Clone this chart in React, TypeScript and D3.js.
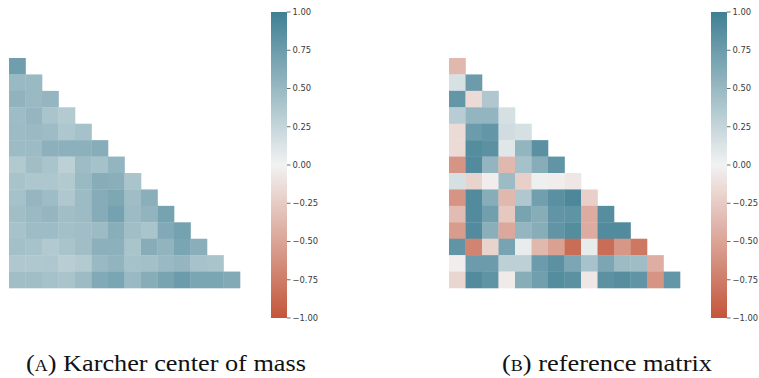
import React from "react";
import * as d3 from "d3";

// Lower-triangular correlation values, row i holds i+1 entries
const karcherRows: number[][] = [
  [0.73],
  [0.5, 0.5],
  [0.55, 0.5, 0.52],
  [0.47, 0.52, 0.4, 0.35],
  [0.48, 0.5, 0.47, 0.38, 0.43],
  [0.48, 0.48, 0.57, 0.57, 0.57, 0.6],
  [0.36, 0.45, 0.4, 0.3, 0.47, 0.43, 0.53],
  [0.41, 0.38, 0.38, 0.36, 0.5, 0.6, 0.58, 0.4],
  [0.43, 0.52, 0.47, 0.37, 0.48, 0.61, 0.65, 0.46, 0.58],
  [0.45, 0.5, 0.52, 0.45, 0.48, 0.61, 0.7, 0.48, 0.54, 0.69],
  [0.42, 0.47, 0.47, 0.44, 0.45, 0.48, 0.59, 0.45, 0.4, 0.63, 0.7],
  [0.44, 0.42, 0.36, 0.4, 0.45, 0.57, 0.57, 0.4, 0.6, 0.54, 0.67, 0.58],
  [0.37, 0.37, 0.38, 0.32, 0.35, 0.5, 0.54, 0.43, 0.44, 0.5, 0.52, 0.42, 0.4],
  [0.45, 0.45, 0.43, 0.4, 0.48, 0.63, 0.67, 0.5, 0.6, 0.68, 0.75, 0.67, 0.67, 0.63],
];

const referenceRows: number[][] = [
  [-0.37],
  [0.15, 0.75],
  [0.8, -0.15, 0.37],
  [0.33, 0.53, 0.53, 0.16],
  [-0.15, 0.75, 0.8, 0.19, 0.16],
  [-0.15, 0.88, 0.84, 0.1, 0.53, 0.85],
  [-0.6, 0.9, 0.53, -0.37, 0.43, 0.6, 0.81],
  [0.16, -0.2, -0.03, 0.48, -0.22, 0.02, -0.03, -0.07],
  [-0.6, 0.9, 0.6, -0.37, 0.37, 0.72, 0.85, 0.93, -0.22],
  [-0.35, 0.9, 0.72, -0.27, 0.68, 0.6, 0.81, 0.82, -0.45, 0.87],
  [-0.55, 0.9, 0.58, -0.47, 0.52, 0.6, 0.81, 0.88, -0.45, 0.9, 0.9],
  [0.81, -0.7, -0.2, 0.68, 0.05, -0.37, -0.52, -0.85, 0.06, -0.85, -0.58, -0.78],
  [-0.03, 0.75, 0.75, 0.3, 0.3, 0.75, 0.84, 0.66, 0.42, 0.66, 0.48, 0.46, -0.43],
  [-0.18, 0.9, 0.82, -0.05, 0.6, 0.72, 0.88, 0.84, -0.07, 0.84, 0.87, 0.81, -0.6, 0.8],
];

const colorbarTicks: number[] = [1, 0.75, 0.5, 0.25, 0, -0.25, -0.5, -0.75, -1];

const panels = [
  { rows: karcherRows, x0: 9, cbX: 271, tag: "a", caption: "Karcher center of mass", capX: 26, capW: 280 },
  { rows: referenceRows, x0: 449, cbX: 711, tag: "b", caption: "reference matrix", capX: 502, capW: 210 },
];

const N = 14;
const cellW = 16.5;
const gridTop = 58;
const gridBottom = 288;
const cbTop = 12;
const cbBottom = 318;
const cbW = 16;

const color = d3
  .scaleLinear<string>()
  .domain([-1, 0, 1])
  .range(["#c3553a", "#f2f2f2", "#3f7f93"])
  .interpolate(d3.interpolateRgb);

const fmt = (v: number) => d3.format(".2f")(v).replace("-", "\u2212");

export default function App() {
  const y = d3.scaleBand<number>().domain(d3.range(N)).range([gridTop, gridBottom]);
  const cbY = d3.scaleLinear().domain([-1, 1]).range([cbBottom, cbTop]);
  const gradStops = d3.range(0, 1.0001, 0.05);

  return (
    <svg
      width={759}
      height={378}
      style={{ position: "absolute", left: 0, top: 0, background: "#fff" }}
    >
      <defs>
        <linearGradient id="cbgrad" x1="0" y1="1" x2="0" y2="0">
          {gradStops.map((t) => (
            <stop key={t} offset={t} stopColor={color(-1 + 2 * t)} />
          ))}
        </linearGradient>
      </defs>
      {panels.map((p, pi) => {
        const x = d3
          .scaleBand<number>()
          .domain(d3.range(N))
          .range([p.x0, p.x0 + N * cellW]);
        return (
          <g key={pi}>
            {p.rows.map((row, i) =>
              row.map((v, j) => (
                <rect
                  key={`${i}-${j}`}
                  x={x(j)}
                  y={y(i)}
                  width={x.bandwidth() + 0.3}
                  height={y.bandwidth() + 0.3}
                  fill={color(v)}
                />
              ))
            )}
            <rect
              x={p.cbX}
              y={cbTop}
              width={cbW}
              height={cbBottom - cbTop}
              fill="url(#cbgrad)"
            />
            {colorbarTicks.map((t) => (
              <g key={t} transform={`translate(${p.cbX + cbW},${cbY(t)})`}>
                <line x1={0} x2={3.5} stroke="#444" strokeWidth={0.8} />
                <text
                  x={5.5}
                  dy="0.34em"
                  fontFamily="DejaVu Sans, sans-serif"
                  fontSize={8.4}
                  fill="#3a3a3a"
                >
                  {fmt(t)}
                </text>
              </g>
            ))}
            <text
              x={p.capX}
              y={371}
              fontFamily="Liberation Serif, serif"
              fontSize={23.5}
              fill="#111"
              textLength={p.capW}
              lengthAdjust="spacingAndGlyphs"
            >
              (<tspan style={{ fontVariant: "small-caps" }}>{p.tag}</tspan>) {p.caption}
            </text>
          </g>
        );
      })}
    </svg>
  );
}
